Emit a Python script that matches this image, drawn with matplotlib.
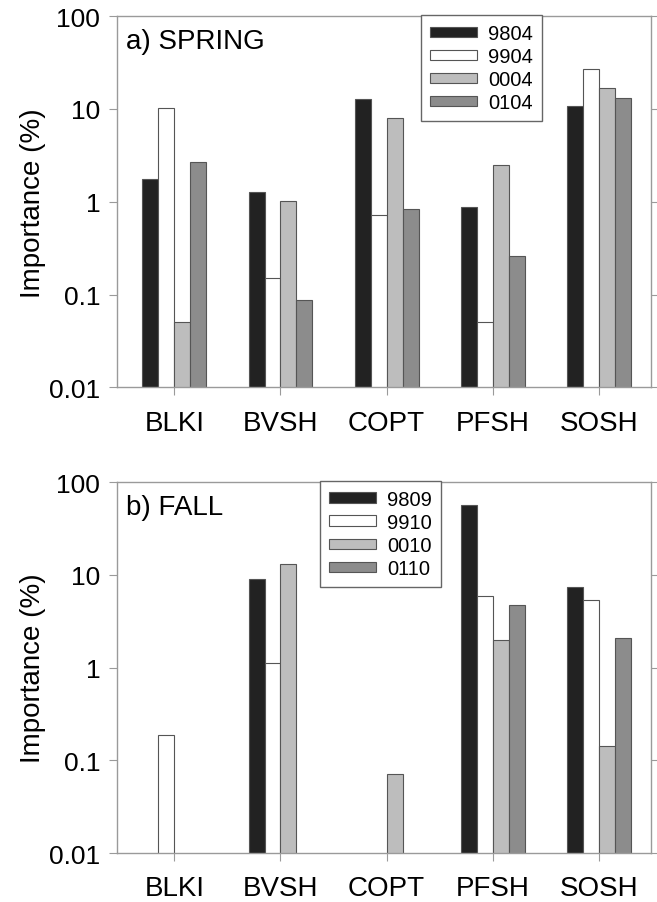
import numpy as np
import matplotlib
matplotlib.use("Agg")
import matplotlib.pyplot as plt

plt.rcParams['font.family'] = ['Liberation Sans', 'DejaVu Sans']

species = ["BLKI", "BVSH", "COPT", "PFSH", "SOSH"]

# spring surveys
spring_labels = ["9804", "9904", "0004", "0104"]
spring_9804 = [1.75, 1.27, 12.9, 0.87, 10.8]
spring_9904 = [10.2, 0.15, 0.72, 0.05, 26.7]
spring_0004 = [0.05, 1.03, 7.9, 2.46, 16.7]
spring_0104 = [2.7, 0.088, 0.83, 0.26, 13.0]

# fall surveys (None = not recorded)
fall_labels = ["9809", "9910", "0010", "0110"]
fall_9809 = [None, 9.1, None, 57.0, 7.35]
fall_9910 = [0.188, 1.11, None, 5.9, 5.33]
fall_0010 = [None, 13.1, 0.071, 1.98, 0.143]
fall_0110 = [None, None, None, 4.74, 2.11]

colors = ["#222222", "#ffffff", "#bdbdbd", "#8c8c8c"]
spine_col = "#9a9a9a"


def panel(ax, series, labels, title, leg_x):
    w = 0.15
    x = np.arange(len(species))
    for i, (vals, lab) in enumerate(zip(series, labels)):
        v = np.array([np.nan if s is None else s for s in vals], dtype=float)
        ok = np.isfinite(v)
        ax.bar(x[ok] + (i - 1.5) * w, v[ok], w, color=colors[i],
               edgecolor="#555555", linewidth=0.8, label=lab)
    ax.set_yscale("log")
    ax.set_ylim(0.01, 100)
    ax.set_xlim(-0.54, 4.49)
    ax.set_yticks([0.01, 0.1, 1, 10, 100])
    ax.set_yticklabels(["0.01", "0.1", "1", "10", "100"])
    ax.minorticks_off()
    ax.set_xticks(x)
    ax.set_xticklabels(species)
    ax.tick_params(axis="x", labelsize=20, length=6, color=spine_col, pad=10)
    ax.tick_params(axis="y", labelsize=19, length=6, color=spine_col,
                   right=True, pad=6)
    for s in ax.spines.values():
        s.set_color(spine_col)
        s.set_linewidth(1.0)
    ax.set_ylabel("Importance (%)", fontsize=20, labelpad=2)
    ax.text(0.017, 0.933, title, transform=ax.transAxes, fontsize=20,
            ha="left", va="center")
    leg = ax.legend(loc="upper left", bbox_to_anchor=(leg_x, 1.003),
                    fontsize=14.5, handlelength=2.35, handleheight=0.45,
                    labelspacing=0.2, borderpad=0.45, handletextpad=0.55,
                    fancybox=False, framealpha=1, edgecolor="#666666",
                    borderaxespad=0)
    leg.get_frame().set_linewidth(1.0)


fig = plt.figure(figsize=(6.57, 9.03), dpi=100)
ax1 = fig.add_axes([0.178, 0.570, 0.813, 0.411])
ax2 = fig.add_axes([0.178, 0.054, 0.813, 0.411])

panel(ax1, [spring_9804, spring_9904, spring_0004, spring_0104],
      spring_labels, "a) SPRING", 0.569)
panel(ax2, [fall_9809, fall_9910, fall_0010, fall_0110],
      fall_labels, "b) FALL", 0.380)

fig.savefig("out.png", dpi=100)
